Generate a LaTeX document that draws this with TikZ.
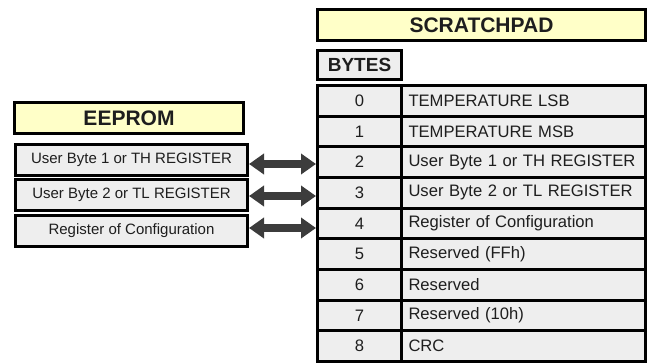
\documentclass[tikz,border=0pt]{standalone}
\usepackage{fontspec}
\setmainfont{Liberation Sans}
\usetikzlibrary{positioning,arrows.meta}
\setlength{\parindent}{0pt}
\definecolor{padyellow}{HTML}{FFFFC8}
\definecolor{cellgray}{HTML}{EEEEEE}
\definecolor{arrowgray}{HTML}{3C3C3C}
\definecolor{inkblack}{HTML}{1E1E1E}
\tikzset{titlebox/.style={
  draw=black,
  fill=padyellow,
  line width=3pt,
  text=inkblack,
  font=\bfseries\fontsize{21}{24}\selectfont,
  minimum height=31pt,
  inner sep=0pt,
  }
  }
\tikzset{regbox/.style={
  draw=black,
  fill=cellgray,
  line width=3pt,
  text=inkblack,
  font=\fontsize{15}{18}\selectfont,
  minimum width=232pt,
  minimum height=31pt,
  inner sep=0pt,
  }
  }
\tikzset{numcell/.style={
  draw=black,
  fill=cellgray,
  line width=3pt,
  outer sep=0pt,
  text=inkblack,
  font=\fontsize{16.6}{20}\selectfont,
  minimum width=84pt,
  minimum height=30.67pt,
  inner sep=0pt,
  }
  }
\tikzset{txtcell/.style={
  numcell,
  minimum width=244pt,
  text width=230pt,
  inner xsep=7pt,
  align=left,
  }
  }
\tikzset{busarrow/.style={
  draw=arrowgray,
  line width=8pt,
  shorten >=1.5pt,
  {Triangle[length=15pt,width=20pt]}-{Triangle[length=15pt,width=20pt]},
  }
  }

\begin{document}
\begin{tikzpicture}[x=1pt,y=-1pt]
  \useasboundingbox (0,0) rectangle (655,363);

  % scratchpad side
  \node [titlebox, minimum width=328pt] (pad) at (481.5,25) {SCRATCHPAD};
  \node [numcell, font=\bfseries\fontsize{19}{22}\selectfont, minimum height=29pt] (bytes) at (359.5,65) {BYTES};

  \node [numcell] (n0) at (359.5,100.83) {0};
  \node [numcell, below=0pt of n0] (n1) {1};
  \node [numcell, below=0pt of n1] (n2) {2};
  \node [numcell, below=0pt of n2] (n3) {3};
  \node [numcell, below=0pt of n3] (n4) {4};
  \node [numcell, below=0pt of n4] (n5) {5};
  \node [numcell, below=0pt of n5] (n6) {6};
  \node [numcell, below=0pt of n6] (n7) {7};
  \node [numcell, below=0pt of n7] (n8) {8};

  \node [txtcell, right=0pt of n0] (t0) {TEMPERATURE LSB};
  \node [txtcell, right=0pt of n1] (t1) {TEMPERATURE MSB};
  \node [txtcell, right=0pt of n2] (t2) {\mbox{User Byte 1 or TH REGISTER}};
  \node [txtcell, right=0pt of n3] (t3) {\mbox{User Byte 2 or TL REGISTER}};
  \node [txtcell, right=0pt of n4] (t4) {Register of Configuration};
  \node [txtcell, right=0pt of n5] (t5) {Reserved (FFh)};
  \node [txtcell, right=0pt of n6] (t6) {Reserved};
  \node [txtcell, right=0pt of n7] (t7) {Reserved (10h)};
  \node [txtcell, right=0pt of n8] (t8) {CRC};

  % eeprom side
  \node [titlebox, minimum width=229pt] (eeprom) at (129,118) {EEPROM};
  \node [regbox] (eb1) at (131.5,160) {User Byte 1 or TH REGISTER};
  \node [regbox, below=1.3pt of eb1] (eb2) {User Byte 2 or TL REGISTER};
  \node [regbox, below=1.3pt of eb2] (eb3) {Register of Configuration};

  % copy paths
  \coordinate (ar1) at (0,164);
  \coordinate (ar2) at (0,196);
  \coordinate (ar3) at (0,228);
  \draw [busarrow] (eb1.east |- ar1) -- (n2.west |- ar1);
  \draw [busarrow] (eb2.east |- ar2) -- (n3.west |- ar2);
  \draw [busarrow] (eb3.east |- ar3) -- (n4.west |- ar3);
\end{tikzpicture}
\end{document}
